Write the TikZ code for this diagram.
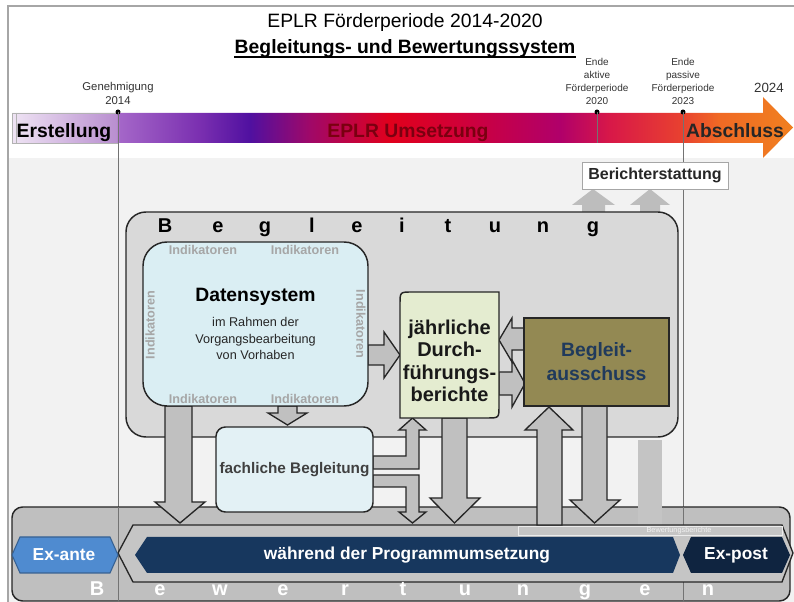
\documentclass[tikz,border=0pt]{standalone}
\usepackage{fontspec}
\setmainfont{Liberation Sans}
\usetikzlibrary{positioning}

\definecolor{hgrau}{HTML}{F2F2F2}
\definecolor{rahmen}{HTML}{A6A6A6}
\definecolor{beglgrau}{HTML}{D9D9D9}
\definecolor{bewgrau}{HTML}{BFBFBF}
\definecolor{pfeilgrau}{HTML}{C0C0C0}
\definecolor{pfeilhell}{HTML}{BDBDBD}
\definecolor{linie}{HTML}{262626}
\definecolor{datenblau}{HTML}{DAEEF3}
\definecolor{fachblau}{HTML}{E3F1F5}
\definecolor{jahrgruen}{HTML}{E4ECD0}
\definecolor{ausschussoliv}{HTML}{938953}
\definecolor{ausschusstext}{HTML}{203A5C}
\definecolor{exantefarbe}{HTML}{4F8BD0}
\definecolor{navyblau}{HTML}{17375E}
\definecolor{navydunkel}{HTML}{0F2440}
\definecolor{indgrau}{HTML}{A6A6A6}
\definecolor{umsetzrot}{HTML}{7A0010}

% farben des zeitstrahls
\definecolor{zs0}{HTML}{EFE4F4}
\definecolor{zs1}{HTML}{B98FD0}
\definecolor{zs2}{HTML}{A466C8}
\definecolor{zs3}{HTML}{7A2FB0}
\definecolor{zs4}{HTML}{5010A0}
\definecolor{zs5}{HTML}{A00868}
\definecolor{zs6}{HTML}{E0001C}
\definecolor{zs7}{HTML}{D00038}
\definecolor{zs8}{HTML}{B0006A}
\definecolor{zs9}{HTML}{D81848}
\definecolor{zs10}{HTML}{E84030}
\definecolor{zs11}{HTML}{F06A24}
\definecolor{zs12}{HTML}{F08020}

\pgfdeclarehorizontalshading{zeitstrahl}{100bp}{color(0bp)=(zs0); color(25bp)=(zs0);
  color(31.66bp)=(zs1); color(31.91bp)=(zs2); color(37.04bp)=(zs3); color(40.24bp)=(zs4);
  color(44.08bp)=(zs5); color(49.2bp)=(zs6); color(53.68bp)=(zs7); color(60.08bp)=(zs8);
  color(63.28bp)=(zs9); color(67.77bp)=(zs10); color(70.33bp)=(zs11); color(75bp)=(zs12);
  color(100bp)=(zs12)}

\newcommand{\pxu}{0.75pt}
\newcommand{\schrift}[2]{\fontsize{#1}{#2}\selectfont}

\tikzset{
  box/.style={draw=linie, line width=1.1pt},
  blk/.style={fill=pfeilgrau, draw=linie, line width=1pt, line join=miter},
  hellpfeil/.style={fill=pfeilhell, draw=none},
  zeit/.style={font=\schrift{7.5}{9.8}, align=center, inner sep=0pt, text=black!80},
  gross/.style={font=\schrift{14.5}{17}\bfseries},
  indik/.style={text=indgrau, font=\schrift{9.5}{11}\bfseries, inner sep=0pt},
  marke/.style={circle, fill=black, inner sep=0pt, minimum size=5*\pxu},
  zeitlinie/.style={draw=black!55, line width=0.5pt},
  hexa/.style={text=white, font=\schrift{13}{15}\bfseries},
  sperr/.style={font=\schrift{15}{17}\bfseries, inner sep=0pt},
}

\begin{document}
\begin{tikzpicture}[x=0.75pt, y=-0.75pt]
\useasboundingbox (0,0) rectangle (794,602);

% hintergrund
\fill[white] (0,0) rectangle (794,602);
\fill[hgrau] (8,158) rectangle (794,602);
\draw[rahmen, line width=1.2pt] (8,602) -- (8,6) -- (794,6);

% ueberschrift
\node[font=\schrift{14.5}{17}, anchor=base] (titel) at (405,28) {EPLR Förderperiode 2014-2020};
\node[gross, anchor=base, inner xsep=0pt] (untertitel) at (405,54) {Begleitungs- und Bewertungssystem};
\draw[line width=1pt] ([yshift=-2.2pt]untertitel.base west) -- ([yshift=-2.2pt]untertitel.base east);

% zeitstrahl
\shade[shading=zeitstrahl] (12,113) -- (763,113) -- (763,97) -- (793,127.5) -- (763,158)
  -- (763,143) -- (12,143) -- cycle;
\draw[gray!60, line width=0.6pt] (12,113) rectangle (118,143);
\draw[gray!60, line width=0.6pt] (16,113) -- (16,143);

\node[marke] (p14) at (118,112) {};
\node[marke] (p20) at (597,112) {};
\node[marke] (p23) at (683,112) {};
\draw[zeitlinie] (p14.center) -- (118,602);
\draw[zeitlinie] (p20.center) -- (597,143);
\draw[zeitlinie] (p23.center) -- (683,602);

\node[zeit, font=\schrift{8.5}{10.5}, above=4*\pxu of p14] (genehmigung) {Genehmigung\\2014};
\node[zeit, above=4*\pxu of p20] (aktiv) {Ende\\aktive\\Förderperiode\\2020};
\node[zeit, above=4*\pxu of p23] (passiv) {Ende\\passive\\Förderperiode\\2023};
\node[font=\schrift{10}{12}, text=black!80] (jahr24) at (769,88) {2024};

\node[gross, anchor=base] (erstellung) at (64,138) {Erstellung};
\node[gross, anchor=base, text=umsetzrot] (umsetzung) at (408,138) {EPLR Umsetzung};
\node[gross, anchor=base, text=black!85] (abschluss) at (735,138) {Abschluss};

% berichterstattung
\fill[hellpfeil] (582,212) -- (582,205) -- (572,205) -- (593,189) -- (615,205) -- (605,205)
  -- (605,212) -- cycle;
\fill[hellpfeil] (640,212) -- (640,205) -- (630,205) -- (650,189) -- (670,205) -- (660,205)
  -- (660,212) -- cycle;
\node[draw=gray!70, fill=white, line width=0.6pt, minimum width=146*\pxu, minimum height=27*\pxu,
  inner sep=1pt, font=\schrift{12}{14}\bfseries, text=black!85] (bericht) at (655,175.5)
  {Berichterstattung};

% begleitung und bewertungen
\node[box, fill=beglgrau, rounded corners=15pt, minimum width=552*\pxu,
  minimum height=225*\pxu] (begl) at (402,324.5) {};
\foreach \x/\b [count=\i] in {165/B,218/e,265/g,312/l,357/e,402/i,448/t,495/u,543/n,593/g}
  \node[sperr, anchor=base] (beglbuchstabe\i) at (\x,233) {\b};

\node[box, fill=bewgrau, rounded corners=8pt, minimum width=778*\pxu,
  minimum height=94*\pxu] (bew) at (401,554) {};
\draw[zeitlinie] (118,507) -- (118,602);
\draw[zeitlinie] (683,507) -- (683,602);

% bewertungsberichte
\fill[pfeilhell!90!white] (638,440) rectangle (662,525);

% chevron und phasen
\draw[fill=bewgrau!90!white, draw=linie, line width=1pt] (133,525) -- (782,525) -- (793,553)
  -- (782,582) -- (133,582) -- (118,553) -- cycle;
\draw[white!85!gray, line width=0.6pt] (518,526) rectangle (782,535);
\node[text=white!90!gray, font=\schrift{5.5}{6}, inner sep=0pt] (bewberichte) at (679,531)
  {Bewertungsberichte};

\draw[fill=exantefarbe, draw=exantefarbe!70!black, line width=0.8pt] (12,555) -- (20,537)
  -- (110,537) -- (118,555) -- (110,573) -- (20,573) -- cycle;
\node[hexa] (exante) at (64,555) {Ex-ante};
\fill[navyblau] (135,555) -- (147,537) -- (673,537) -- (680,555) -- (673,573) -- (147,573) -- cycle;
\node[hexa] (waehrend) at (407,555) {während der Programmumsetzung};
\fill[navydunkel] (683,555) -- (691,537) -- (782,537) -- (790,555) -- (782,573) -- (691,573) -- cycle;
\node[hexa] (expost) at (736,555) {Ex-post};

\foreach \x/\b [count=\i] in {97/B,160/e,220/w,283/e,345/r,403/t,465/u,523/n,585/g,645/e,708/n}
  \node[sperr, anchor=base, text=white] (bewbuchstabe\i) at (\x,596) {\b};

% pfeile
\draw[blk] (368,345) -- (384,345) -- (384,332) -- (400,355) -- (384,378) -- (384,365)
  -- (368,365) -- cycle;
\draw[blk] (165,406) -- (165,502) -- (155,502) -- (180,523) -- (205,502) -- (192,502)
  -- (192,406) -- cycle;
\draw[blk] (278,406) -- (278,413) -- (268,413) -- (287.5,425) -- (307,413) -- (297,413)
  -- (297,406) -- cycle;
\draw[blk] (373,456) -- (406,456) -- (406,430) -- (399,430) -- (412.5,418) -- (426,430)
  -- (419,430) -- (419,469) -- (373,469) -- cycle;
\draw[blk] (373,475) -- (419,475) -- (419,512) -- (426,512) -- (412.5,523) -- (399,512)
  -- (406,512) -- (406,487) -- (373,487) -- cycle;
\draw[blk] (442,418) -- (442,498) -- (430,498) -- (454.5,523) -- (480,498) -- (467,498)
  -- (467,418) -- cycle;
\draw[blk] (537,525) -- (537,430) -- (525,430) -- (549,407) -- (573,430) -- (562,430)
  -- (562,525) -- cycle;
\draw[blk] (582,406) -- (582,500) -- (570,500) -- (594.5,523) -- (620,500) -- (607,500)
  -- (607,406) -- cycle;
\draw[blk] (499,372) -- (512,372) -- (512,360) -- (525,383.5) -- (512,407) -- (512,395)
  -- (499,395) -- cycle;
\draw[blk] (525,328) -- (512,328) -- (512,318) -- (499,340) -- (512,362) -- (512,350)
  -- (525,350) -- cycle;

% datensystem
\node[box, fill=datenblau, rounded corners=18pt, minimum width=225*\pxu,
  minimum height=164*\pxu] (daten) at (255.5,324) {};
\node[gross, anchor=base] (datentitel) at (255.5,302) {Datensystem};
\node[font=\schrift{9.5}{12.3}, align=center, text=black!85, below=2*\pxu of datentitel]
  (datentext) {im Rahmen der\\Vorgangsbearbeitung\\von Vorhaben};
\node[indik] (ind1) at (203,250) {Indikatoren};
\node[indik] (ind2) at (305,250) {Indikatoren};
\node[indik] (ind3) at (203,399) {Indikatoren};
\node[indik] (ind4) at (305,399) {Indikatoren};
\node[indik, rotate=90] (ind5) at (150,325) {Indikatoren};
\node[indik, rotate=-90] (ind6) at (361,324) {Indikatoren};

% jaehrliche durchfuehrungsberichte
\draw[box, fill=jahrgruen] (400,418) -- (400,304) .. controls (400,292) .. (412,292) -- (499,292)
  -- (499,406) .. controls (499,418) .. (487,418) -- cycle;
\node[font=\schrift{15}{16.8}\bfseries, align=center, text=black!90] (jahr) at (449.5,361)
  {jährliche\\Durch-\\führungs-\\berichte};

% begleitausschuss
\node[box, fill=ausschussoliv, minimum width=145*\pxu, minimum height=88*\pxu, align=center,
  text=ausschusstext, font=\schrift{14.5}{18}\bfseries] (ausschuss) at (596.5,362)
  {Begleit-\\ausschuss};

% fachliche begleitung
\node[box, fill=fachblau, rounded corners=7pt, minimum width=157*\pxu, minimum height=85*\pxu,
  inner sep=1pt, font=\schrift{11.5}{14}\bfseries, text=black!75] (fach) at (294.5,469.5)
  {fachliche Begleitung};

\end{tikzpicture}
\end{document}
